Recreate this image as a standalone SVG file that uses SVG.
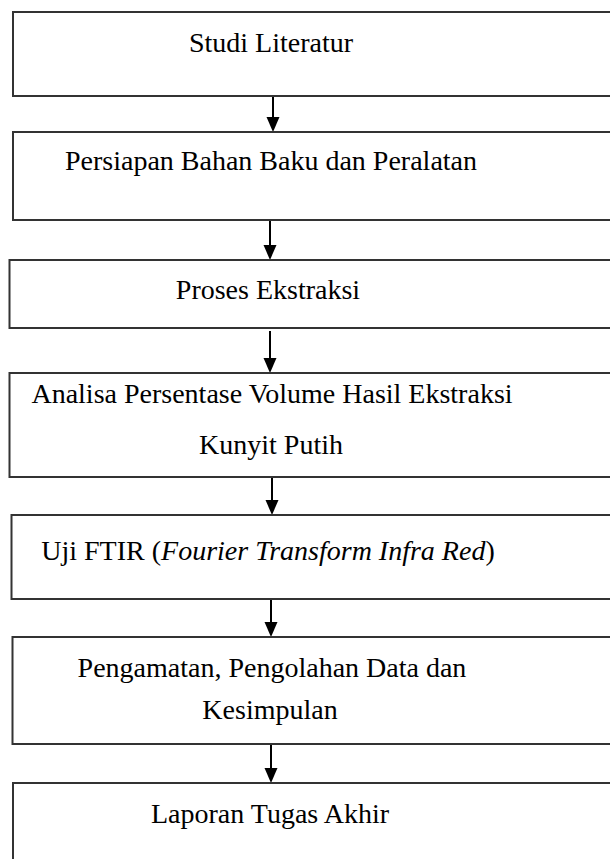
<svg xmlns="http://www.w3.org/2000/svg" width="610" height="859" viewBox="0 0 610 859">
<style>
.box{fill:#fff;stroke:#333;stroke-width:2}
.t{font-family:'Liberation Serif','DejaVu Serif','Times New Roman',serif;font-size:28px;fill:#000;text-anchor:middle}
.c{stroke:#000;stroke-width:2;fill:none}
.ah{fill:#000}
</style>
<rect width="610" height="859" fill="#fff"/>
<g id="connectors">
<line class="c" x1="273" y1="96" x2="273" y2="118"/><polygon class="ah" points="266.5,117 279.5,117 273,132"/>
<line class="c" x1="270" y1="220" x2="270" y2="246"/><polygon class="ah" points="263.5,245 276.5,245 270,260"/>
<line class="c" x1="270" y1="331" x2="270" y2="359"/><polygon class="ah" points="263.5,358 276.5,358 270,373"/>
<line class="c" x1="272" y1="477" x2="272" y2="501"/><polygon class="ah" points="265.5,500 278.5,500 272,515"/>
<line class="c" x1="271" y1="600" x2="271" y2="623"/><polygon class="ah" points="264.5,622 277.5,622 271,637"/>
<line class="c" x1="271" y1="744" x2="271" y2="769"/><polygon class="ah" points="264.5,768 277.5,768 271,783"/>
</g>
<g id="n1"><rect class="box" x="13" y="12" width="610" height="84"/><text class="t" font-family="Liberation Serif, serif" x="271" y="52">Studi Literatur</text></g>
<g id="n2"><rect class="box" x="13" y="132" width="610" height="88"/><text class="t" x="271" y="170">Persiapan Bahan Baku dan Peralatan</text></g>
<g id="n3"><rect class="box" x="9.5" y="260" width="610" height="68"/><text class="t" x="268" y="299">Proses Ekstraksi</text></g>
<g id="n4"><rect class="box" x="9.5" y="373" width="610" height="104"/><text class="t" x="272" y="403">Analisa Persentase Volume Hasil Ekstraksi</text><text class="t" x="271" y="454">Kunyit Putih</text></g>
<g id="n5"><rect class="box" x="11.5" y="515" width="610" height="84"/><text class="t" x="268" y="560">Uji FTIR (<tspan font-style="italic">Fourier Transform Infra Red</tspan>)</text></g>
<g id="n6"><rect class="box" x="12.5" y="637" width="610" height="107"/><text class="t" x="272" y="677">Pengamatan, Pengolahan Data dan</text><text class="t" x="270" y="719">Kesimpulan</text></g>
<g id="n7"><rect class="box" x="13" y="783" width="610" height="100"/><text class="t" x="270" y="823">Laporan Tugas Akhir</text></g>
</svg>
